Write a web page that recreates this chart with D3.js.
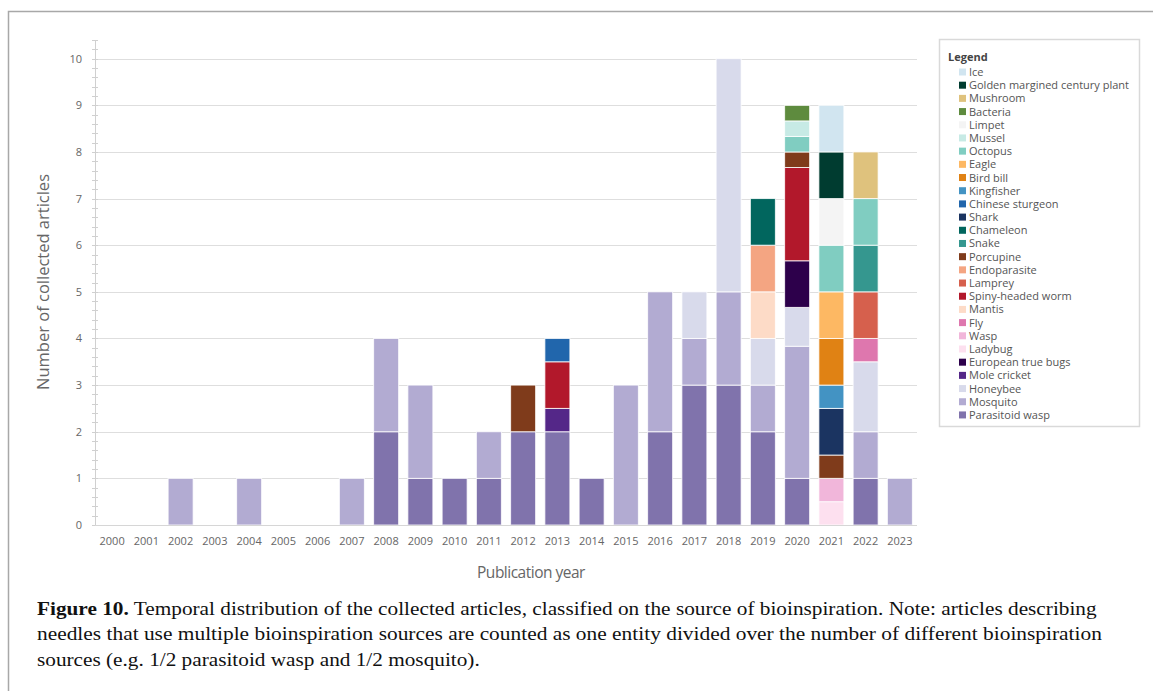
<!DOCTYPE html>
<html>
<head>
<meta charset="utf-8">
<script src="https://cdn.jsdelivr.net/npm/d3@7"></script>
<style>
  html, body { margin: 0; padding: 0; background: #fff; }
  svg { display: block; }
</style>
</head>
<body>
<svg id="chart" width="1153" height="691"></svg>
<script>
// ---------- DATA ----------
const years = ["2000","2001","2002","2003","2004","2005","2006","2007","2008","2009","2010","2011",
               "2012","2013","2014","2015","2016","2017","2018","2019","2020","2021","2022","2023"];

// Legend order (top to bottom)
const seriesNames = ["Ice","Golden margined century plant","Mushroom","Bacteria","Limpet","Mussel","Octopus",
  "Eagle","Bird bill","Kingfisher","Chinese sturgeon","Shark","Chameleon","Snake","Porcupine","Endoparasite",
  "Lamprey","Spiny-headed worm","Mantis","Fly","Wasp","Ladybug","European true bugs","Mole cricket",
  "Honeybee","Mosquito","Parasitoid wasp"];

const seriesColors = ["#d1e5f0","#003c30","#dfc27d","#5e8b3e","#f4f4f4","#c7eae5","#80cdc1",
  "#fdb863","#e08214","#4393c3","#2166ac","#1b3461","#01665e","#35978f","#7f3b1b","#f4a582",
  "#d6604d","#b2182b","#fddbc7","#de77ae","#f1b6da","#fde0ef","#2d004b","#542788",
  "#d8daeb","#b2abd2","#8073ac"];

// values per year (2000..2023)
const ice             = [0,0,0,0,0,0,0,0,0,0,0,0,0,0,0,0,0,0,0,0,0,1,0,0];
const goldenPlant     = [0,0,0,0,0,0,0,0,0,0,0,0,0,0,0,0,0,0,0,0,0,1,0,0];
const mushroom        = [0,0,0,0,0,0,0,0,0,0,0,0,0,0,0,0,0,0,0,0,0,0,1,0];
const bacteria        = [0,0,0,0,0,0,0,0,0,0,0,0,0,0,0,0,0,0,0,0,0.333,0,0,0];
const limpet          = [0,0,0,0,0,0,0,0,0,0,0,0,0,0,0,0,0,0,0,0,0,1,0,0];
const mussel          = [0,0,0,0,0,0,0,0,0,0,0,0,0,0,0,0,0,0,0,0,0.333,0,0,0];
const octopus         = [0,0,0,0,0,0,0,0,0,0,0,0,0,0,0,0,0,0,0,0,0.333,1,1,0];
const eagle           = [0,0,0,0,0,0,0,0,0,0,0,0,0,0,0,0,0,0,0,0,0,1,0,0];
const birdBill        = [0,0,0,0,0,0,0,0,0,0,0,0,0,0,0,0,0,0,0,0,0,1,0,0];
const kingfisher      = [0,0,0,0,0,0,0,0,0,0,0,0,0,0,0,0,0,0,0,0,0,0.5,0,0];
const chineseSturgeon = [0,0,0,0,0,0,0,0,0,0,0,0,0,0.5,0,0,0,0,0,0,0,0,0,0];
const shark           = [0,0,0,0,0,0,0,0,0,0,0,0,0,0,0,0,0,0,0,0,0,1,0,0];
const chameleon       = [0,0,0,0,0,0,0,0,0,0,0,0,0,0,0,0,0,0,0,1,0,0,0,0];
const snake           = [0,0,0,0,0,0,0,0,0,0,0,0,0,0,0,0,0,0,0,0,0,0,1,0];
const porcupine       = [0,0,0,0,0,0,0,0,0,0,0,0,1,0,0,0,0,0,0,0,0.333,0.5,0,0];
const endoparasite    = [0,0,0,0,0,0,0,0,0,0,0,0,0,0,0,0,0,0,0,1,0,0,0,0];
const lamprey         = [0,0,0,0,0,0,0,0,0,0,0,0,0,0,0,0,0,0,0,0,0,0,1,0];
const spinyWorm       = [0,0,0,0,0,0,0,0,0,0,0,0,0,1,0,0,0,0,0,0,2,0,0,0];
const mantis          = [0,0,0,0,0,0,0,0,0,0,0,0,0,0,0,0,0,0,0,1,0,0,0,0];
const fly             = [0,0,0,0,0,0,0,0,0,0,0,0,0,0,0,0,0,0,0,0,0,0,0.5,0];
const wasp            = [0,0,0,0,0,0,0,0,0,0,0,0,0,0,0,0,0,0,0,0,0,0.5,0,0];
const ladybug         = [0,0,0,0,0,0,0,0,0,0,0,0,0,0,0,0,0,0,0,0,0,0.5,0,0];
const euroTrueBugs    = [0,0,0,0,0,0,0,0,0,0,0,0,0,0,0,0,0,0,0,0,1,0,0,0];
const moleCricket     = [0,0,0,0,0,0,0,0,0,0,0,0,0,0.5,0,0,0,0,0,0,0,0,0,0];
const honeybee        = [0,0,0,0,0,0,0,0,0,0,0,0,0,0,0,0,0,1,5,1,0.833,0,1.5,0];
const mosquito        = [0,0,1,0,1,0,0,1,2,2,0,1,0,0,0,3,3,1,2,1,2.833,0,1,1];
const parasitoidWasp  = [0,0,0,0,0,0,0,0,2,1,1,1,2,2,1,0,2,3,3,2,1,0,1,0];

const seriesValues = [ice, goldenPlant, mushroom, bacteria, limpet, mussel, octopus, eagle, birdBill,
  kingfisher, chineseSturgeon, shark, chameleon, snake, porcupine, endoparasite, lamprey, spinyWorm,
  mantis, fly, wasp, ladybug, euroTrueBugs, moleCricket, honeybee, mosquito, parasitoidWasp];

const yTicks = [0,1,2,3,4,5,6,7,8,9,10];
const yMinorTicks = d3.range(0, 10.41, 0.2);

const captionLines = [
  [["Figure 10.", true], [" Temporal distribution of the collected articles, classified on the source of bioinspiration. Note: articles describing", false]],
  [["needles that use multiple bioinspiration sources are counted as one entity divided over the number of different bioinspiration", false]],
  [["sources (e.g. 1/2 parasitoid wasp and 1/2 mosquito).", false]]
];
const captionWidths = [1060, 1065, 443];

// ---------- BUILD ----------
const svg = d3.select("#chart");
const font = "'Open Sans', 'Noto Sans', sans-serif";

// outer frame
svg.append("path")
  .attr("d", "M8.5,700 L8.5,11.5 L1160,11.5")
  .attr("fill", "none").attr("stroke", "#a8a8a8").attr("stroke-width", 1.5);

// table rows for stacking
const table = years.map((y, i) => {
  const row = { year: y };
  seriesNames.forEach((s, j) => { row[s] = seriesValues[j][i]; });
  return row;
});
const stackKeys = seriesNames.slice().reverse();
const colorScale = d3.scaleOrdinal().domain(seriesNames).range(seriesColors);

const x = d3.scaleBand().domain(years).range([95, 917]).paddingInner(0.27).paddingOuter(0.135);
const y = d3.scaleLinear().domain([0, 10.4]).range([525, 40]);

// gridlines
svg.append("g").selectAll("line").data(yTicks.slice(1)).join("line")
  .attr("x1", 92).attr("x2", 917)
  .attr("y1", d => Math.round(y(d)) + 0.5).attr("y2", d => Math.round(y(d)) + 0.5)
  .attr("stroke", "#dedede").attr("stroke-width", 1);

// y axis line and minor ticks
svg.append("line").attr("x1", 95.5).attr("x2", 95.5).attr("y1", y(10.4)).attr("y2", y(0))
  .attr("stroke", "#d0d0d0");
svg.append("g").selectAll("line").data(yMinorTicks).join("line")
  .attr("x1", 92).attr("x2", 98)
  .attr("y1", d => Math.round(y(d)) + 0.5).attr("y2", d => Math.round(y(d)) + 0.5)
  .attr("stroke", "#d0d0d0");

// y tick labels
svg.append("g").selectAll("text").data(yTicks).join("text")
  .attr("x", 82).attr("y", d => y(d) + 4)
  .attr("text-anchor", "end")
  .attr("font-family", font).attr("font-size", 11).attr("fill", "#666")
  .text(d => d);

// bars
const stacked = d3.stack().keys(stackKeys)(table);
svg.append("g").selectAll("g").data(stacked).join("g")
  .attr("fill", d => colorScale(d.key))
  .selectAll("rect").data(d => d.filter(p => p[1] - p[0] > 0)).join("rect")
  .attr("x", d => x(d.data.year))
  .attr("width", x.bandwidth())
  .attr("y", d => y(d[1]))
  .attr("height", d => y(d[0]) - y(d[1]))
  .attr("stroke", "#ffffff").attr("stroke-width", 1).attr("stroke-opacity", 0.8);

// x axis line
svg.append("line").attr("x1", 95).attr("x2", 917).attr("y1", 525.5).attr("y2", 525.5)
  .attr("stroke", "#d6d6d6").attr("stroke-width", 1.2);

// x tick labels
svg.append("g").selectAll("text").data(years).join("text")
  .attr("x", d => x(d) + x.bandwidth() / 2).attr("y", 545)
  .attr("text-anchor", "middle")
  .attr("font-family", font).attr("font-size", 11).attr("fill", "#666")
  .text(d => d);

// axis titles
svg.append("text").attr("x", 531).attr("y", 578).attr("text-anchor", "middle")
  .attr("font-family", font).attr("font-size", 15.5).attr("fill", "#666")
  .attr("letter-spacing", -0.5)
  .text("Publication year");
svg.append("text").attr("transform", "translate(49,282) rotate(-90)").attr("text-anchor", "middle")
  .attr("font-family", font).attr("font-size", 16.5).attr("fill", "#666")
  .text("Number of collected articles");

// legend
const lg = svg.append("g");
lg.append("rect").attr("x", 939.5).attr("y", 39.5).attr("width", 200).attr("height", 387)
  .attr("fill", "#fff").attr("stroke", "#d9d9d9").attr("stroke-width", 1.5);
lg.append("text").attr("x", 948).attr("y", 61)
  .attr("font-family", font).attr("font-size", 11).attr("font-weight", "bold").attr("fill", "#444")
  .text("Legend");
const items = lg.selectAll("g.item").data(seriesNames).join("g").attr("class", "item")
  .attr("transform", (d, i) => `translate(0,${72 + i * 13.19})`);
items.append("rect").attr("x", 959).attr("y", -3.5).attr("width", 7).attr("height", 7)
  .attr("fill", d => colorScale(d));
items.append("text").attr("x", 969).attr("y", 4)
  .attr("font-family", font).attr("font-size", 11).attr("fill", "#555")
  .text(d => d);

// caption
const cap = svg.append("g");
captionLines.forEach((line, i) => {
  const t = cap.append("text").attr("x", 37).attr("y", 615 + i * 25.5)
    .attr("font-family", "'Liberation Serif', 'DejaVu Serif', serif").attr("font-size", 19.5).attr("fill", "#111");
  line.forEach(([s, b]) => {
    t.append("tspan").attr("font-weight", b ? "bold" : "normal").text(s);
  });
  const w = t.node().getComputedTextLength();
  const k = captionWidths[i] / w;
  t.attr("transform", `translate(37,0) scale(${k},1) translate(-37,0)`);
});
</script>
</body>
</html>
